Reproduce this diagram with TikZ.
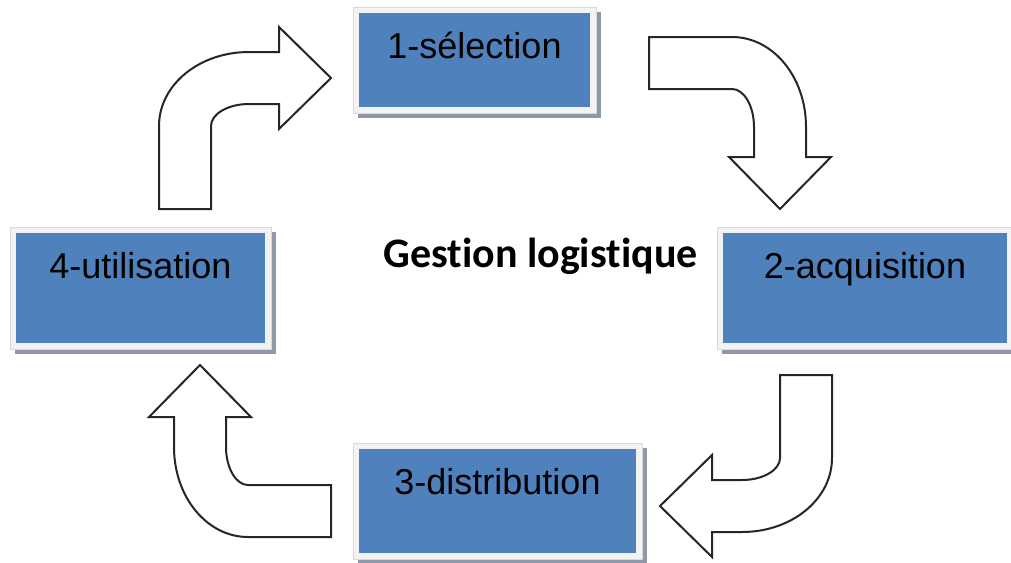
\documentclass[tikz,border=0pt]{standalone}
\usepackage{fontspec}
\setmainfont{Liberation Sans}
\newfontfamily\titlefont[Ligatures=NoCommon]{Carlito}
\usepackage{tikz}
\usetikzlibrary{shadows}
\definecolor{boxblue}{RGB}{79,129,189}
\definecolor{shadowgray}{RGB}{142,152,168}
\definecolor{framegray}{RGB}{243,243,243}

\tikzset{
  box/.style={rectangle, draw=gray!30, fill=framegray, line width=0.4pt, anchor=north,
    inner xsep=0pt, inner ysep=0pt, text height=25.5pt, font=\fontsize{18}{20}\selectfont,
    drop shadow={shadow xshift=2.5pt, shadow yshift=-2.5pt, fill=shadowgray, opacity=1},
    path picture={\fill[boxblue] ([xshift=3pt,yshift=-3pt]path picture bounding box.north west)
      rectangle ([xshift=-3pt,yshift=3pt]path picture bounding box.south east);}},
  blockarrow/.style={draw=black!85, line width=1pt, fill=white}
}

\newcommand{\bentarrow}[2]{%
  \draw[blockarrow, shift={(#1)}, rotate=#2] (-26,0) -- (-26,-83)
    .. controls (-26,-124) and (14,-157) .. (64,-157) -- (94,-157) -- (94,-182)
    -- (146,-131) -- (94,-80) -- (94,-105) -- (64,-105)
    .. controls (43,-105) and (26,-95) .. (26,-83) -- (26,0) -- cycle;}

\begin{document}
\begin{tikzpicture}[x=0.5pt, y=-0.5pt]
   \fill[white] (0,0) rectangle (1011,562);
   \useasboundingbox (0,0) rectangle (1011,562);
   \node[box, minimum width=121.5pt, text depth=27.5pt] (sel) at (474.5,7) {1-sélection};
   \node[box, minimum width=148pt, text depth=35.5pt] (acq) at (865,227) {2-acquisition};
   \node[box, minimum width=144.5pt, text depth=32.5pt] (dist) at (497.5,443) {3-distribution};
   \node[box, minimum width=130.5pt, text depth=35.5pt] (util) at (140.5,227) {4-utilisation};
   \node[font=\titlefont\bfseries\fontsize{21}{24}\selectfont, anchor=base] (titre) at (540.5,267) {Gestion logistique};
   \coordinate (q1) at (185,209);
   \coordinate (q2) at (649,63);
   \coordinate (q3) at (806,375);
   \coordinate (q4) at (331,511);
   \bentarrow{q1}{0}
   \bentarrow{q2}{-90}
   \bentarrow{q3}{180}
   \bentarrow{q4}{90}
\end{tikzpicture}
\end{document}
